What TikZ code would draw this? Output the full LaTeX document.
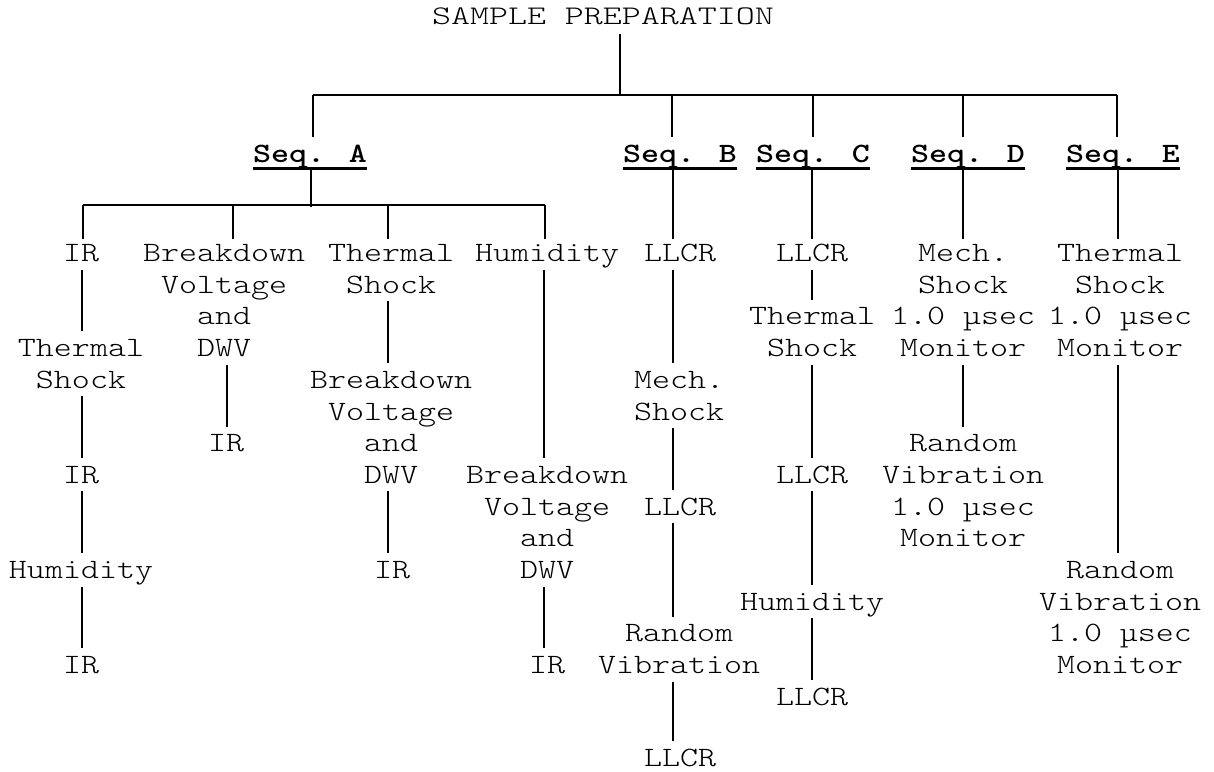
\documentclass[tikz,border=0pt]{standalone}
\usepackage{fontspec}
\newfontfamily\cour{lmmonolt10-regular}[Extension=.otf, BoldFont=lmmonolt10-bold, FakeStretch=1.2245]
\newcommand\dfont{\cour\fontsize{28}{31.7}\selectfont}
\tikzset{
  lbl/.style={anchor=north, yshift=22.19pt, inner sep=0pt, outer sep=0pt, align=center, font=\dfont},
  seqlbl/.style={lbl, font=\dfont\bfseries},
  wire/.style={line width=1.4pt},
  link/.style={wire, shorten <=-1.5pt, shorten >=3pt},
  uline/.style={line width=3pt},
}
\begin{document}
\begin{tikzpicture}[x=1pt,y=-1pt]
\useasboundingbox (0,0) rectangle (1214,771);
% title
\node[lbl] (title) at (603,24) {\strut\scalebox{1.055}[0.96]{SAMPLE PREPARATION}\strut};
\coordinate (m) at (620,95);
\draw[wire] (title.south -| m) -- (m);
% main bar
\coordinate (jA) at (313,95);
\coordinate (jB) at (672,95);
\coordinate (jC) at (813,95);
\coordinate (jD) at (963,95);
\coordinate (jE) at (1117,95);
\draw[wire] (jA) -- (jE);
% sequence labels
\node[seqlbl] (sA) at (310,162) {\strut Seq. A\strut};
\node[seqlbl] (sB) at (680,162) {\strut Seq. B\strut};
\node[seqlbl] (sC) at (813,162) {\strut Seq. C\strut};
\node[seqlbl] (sD) at (968,162) {\strut Seq. D\strut};
\node[seqlbl] (sE) at (1123,162) {\strut Seq. E\strut};
\foreach \s in {A,B,C,D,E}{
  \draw[uline] ([yshift=-6pt]s\s.base west) -- ([yshift=-6pt]s\s.base east);
  \coordinate (u\s) at ([yshift=-6pt]s\s.base);
  \draw[wire, shorten >=3pt] (j\s) -- (j\s |- s\s.north);
}
% line x positions
\coordinate (l1) at (82,0);
\coordinate (l2) at (227,0);
\coordinate (l3) at (388,0);
\coordinate (l4) at (544,0);
\coordinate (lB) at (673,0);
\coordinate (lC) at (812,0);
\coordinate (lD) at (963,0);
\coordinate (lE) at (1118,0);
% Seq A sub bar
\coordinate (kA) at (311,207);
\draw[wire] (uA -| kA) -- (kA);
\coordinate (q1) at (83,205);
\coordinate (q2) at (233,205);
\coordinate (q3) at (388,205);
\coordinate (q4) at (545,205);
\draw[wire] (q1) -- (q4);
% column A-1
\node[lbl] (a1) at (81,261.5) {\strut IR\strut};
\node[lbl] (a2) at (81,356.6) {\strut Thermal\\Shock\strut};
\node[lbl] (a3) at (81,483.4) {\strut IR\strut};
\node[lbl] (a4) at (81,578.5) {\strut Humidity\strut};
\node[lbl] (a5) at (81,673.6) {\strut IR\strut};
% column A-2
\node[lbl] (b1) at (224,261.5) {\strut Breakdown\\Voltage\\and\\DWV\strut};
\node[lbl] (b2) at (226,451.7) {\strut IR\strut};
% column A-3
\node[lbl] (c1) at (391,261.5) {\strut Thermal\\Shock\strut};
\node[lbl] (c2) at (391,388.3) {\strut Breakdown\\Voltage\\and\\DWV\strut};
\node[lbl] (c3) at (392,578.5) {\strut IR\strut};
% column A-4
\node[lbl] (d1) at (547,261.5) {\strut Humidity\strut};
\node[lbl] (d2) at (547,483.4) {\strut Breakdown\\Voltage\\and\\DWV\strut};
\node[lbl] (d3) at (547,673.6) {\strut IR\strut};
% column B
\node[lbl] (e1) at (680,261.5) {\strut LLCR\strut};
\node[lbl] (e2) at (679,388.3) {\strut Mech.\\Shock\strut};
\node[lbl] (e3) at (680,515.1) {\strut LLCR\strut};
\node[lbl] (e4) at (679,641.9) {\strut Random\\Vibration\strut};
\node[lbl] (e5) at (680,766.5) {\strut LLCR};
% column C
\node[lbl] (f1) at (812,261.5) {\strut LLCR\strut};
\node[lbl] (f2) at (812,324.9) {\strut Thermal\\Shock\strut};
\node[lbl] (f3) at (812,483.4) {\strut LLCR\strut};
\node[lbl] (f4) at (812,610.2) {\strut Humidity\strut};
\node[lbl] (f5) at (812,705.3) {\strut LLCR\strut};
% column D
\node[lbl] (g1) at (963,261.5) {\strut Mech.\\Shock\\1.0 µsec\\Monitor\strut};
\node[lbl] (g2) at (963,451.7) {\strut Random\\Vibration\\1.0 µsec\\Monitor\strut};
% column E
\node[lbl] (h1) at (1120,261.5) {\strut Thermal\\Shock\\1.0 µsec\\Monitor\strut};
\node[lbl] (h2) at (1120,578.5) {\strut Random\\Vibration\\1.0 µsec\\Monitor\strut};
% drops from Seq A bar
\draw[wire] (q1) -- (q1 |- a1.north);
\draw[wire] (q2) -- (q2 |- b1.north);
\draw[wire] (q3) -- (q3 |- c1.north);
\draw[wire] (q4) -- (q4 |- d1.north);
% drops from Seq B-E
\draw[wire] (uB -| lB) -- (e1.north -| lB);
\draw[wire] (uC -| lC) -- (f1.north -| lC);
\draw[wire] (uD -| lD) -- (g1.north -| lD);
\draw[wire] (uE -| lE) -- (h1.north -| lE);
% column links
\draw[link] (a1.south -| l1) -- (a2.north -| l1);
\draw[link] (a2.south -| l1) -- (a3.north -| l1);
\draw[link] (a3.south -| l1) -- (a4.north -| l1);
\draw[link] (a4.south -| l1) -- (a5.north -| l1);
\draw[link] (b1.south -| l2) -- (b2.north -| l2);
\draw[link] (c1.south -| l3) -- (c2.north -| l3);
\draw[link] (c2.south -| l3) -- (c3.north -| l3);
\draw[link] (d1.south -| l4) -- (d2.north -| l4);
\draw[link] (d2.south -| l4) -- (d3.north -| l4);
\draw[link] (e1.south -| lB) -- (e2.north -| lB);
\draw[link] (e2.south -| lB) -- (e3.north -| lB);
\draw[link] (e3.south -| lB) -- (e4.north -| lB);
\draw[link] (e4.south -| lB) -- (e5.north -| lB);
\draw[link] (f1.south -| lC) -- (f2.north -| lC);
\draw[link] (f2.south -| lC) -- (f3.north -| lC);
\draw[link] (f3.south -| lC) -- (f4.north -| lC);
\draw[link] (f4.south -| lC) -- (f5.north -| lC);
\draw[link] (g1.south -| lD) -- (g2.north -| lD);
\draw[link] (h1.south -| lE) -- (h2.north -| lE);
\end{tikzpicture}
\end{document}
